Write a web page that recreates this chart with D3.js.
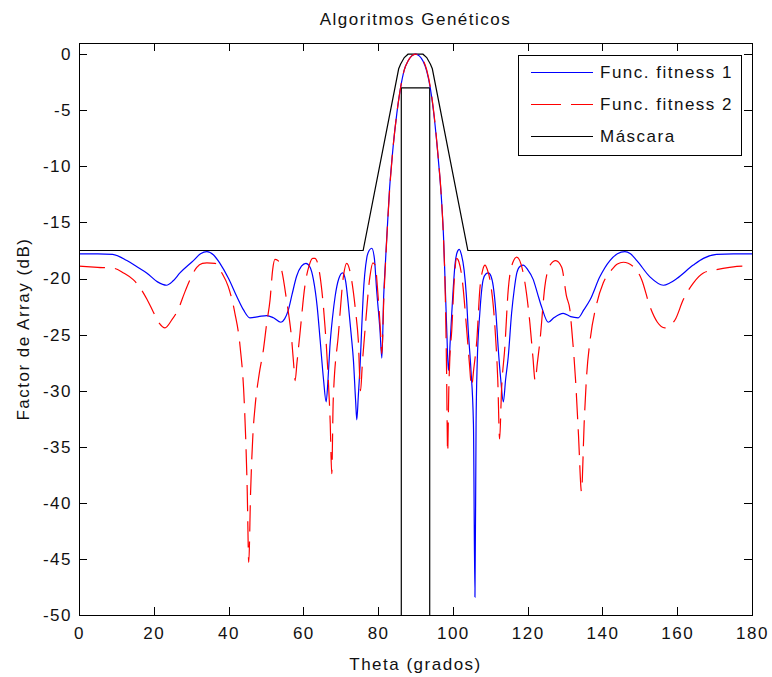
<!DOCTYPE html>
<html>
<head>
<meta charset="utf-8">
<script src="https://cdn.jsdelivr.net/npm/d3@7"></script>
<style>
  body { margin: 0; background: #fff; }
  text { font-family: "Liberation Sans", Arial, sans-serif; font-size: 17px; letter-spacing: 1.5px; fill: #111; }
  .axis path, .axis line { stroke: #000; stroke-width: 1; shape-rendering: crispEdges; }
</style>
</head>
<body>
<svg id="chart" width="772" height="677"></svg>
<script>
// Func. fitness 1 (blue)
var blueTheta = [0,5,9,12.8,15.5,18.1,21,23.4,25.2,27,30.6,32.5,34.2,36,37.7,40,42.2,44,45.7,48,50.2,52,54,55,56,57,58.2,59.5,60.7,61.8,62.7,63.7,64.5,65.4,66.1,66.6,67.1,67.8,68.5,69.5,70.5,71.3,72,72.8,73.4,74,74.3,74.7,75.2,75.6,76,77,77.6,78.3,79,79.6,80.5,81,81.5,82,83,84,85,86,87,88,89,90,91,92,93,94,95,96,97,97.5,97.9,98.4,98.8,99.3,99.7,100.6,101.1,101.7,102.3,103,103.6,104.1,104.8,105.5,105.9,106.2,106.5,107.2,108.1,108.8,109.5,110.2,110.8,111.5,112.1,112.8,113.5,114.1,114.8,115.7,116.4,117.1,118,118.8,120,121.5,122.6,123.7,125.5,127,129.5,131.5,133.5,135,136.7,139.3,142,144,146,147.5,149.2,152.7,156.3,158,159.9,164.3,167,170.5,175,180];
var blueDb = [-17.8,-17.8,-17.85,-18.4,-18.95,-19.5,-20.3,-20.6,-20.2,-19.5,-18.4,-17.8,-17.6,-17.9,-18.65,-20,-21.6,-22.8,-23.5,-23.4,-23.3,-23.5,-23.9,-23.6,-22.8,-21.4,-19.8,-18.9,-18.65,-19,-20.1,-22.5,-25.5,-29,-31,-29,-26.1,-23.5,-21.6,-20,-19.5,-20.2,-22.2,-25,-27.3,-31,-32.6,-30.5,-27.6,-24.5,-21.6,-18.1,-17.5,-17.3,-18.2,-21,-24.6,-27.1,-21.5,-18.3,-12.3,-8.3,-5.3,-3,-1.4,-0.6,-0.15,0,-0.15,-0.6,-1.5,-3.1,-5.6,-9,-13.2,-16.3,-20.1,-25,-28.2,-25.5,-23.1,-18.65,-17.7,-17.4,-17.9,-19.25,-21.5,-24.6,-28,-33,-48.4,-33,-27.6,-23.1,-20.1,-19.6,-19.5,-19.8,-20.7,-23,-26.1,-29,-31,-29,-27,-23.1,-21,-19.5,-18.9,-18.8,-19.2,-20.1,-21.3,-22.5,-23.9,-23.5,-23.1,-23.4,-23.5,-22.8,-21.9,-19.85,-18.4,-17.8,-17.6,-17.8,-18.4,-19.85,-20.6,-20.4,-20,-18.8,-18.2,-17.85,-17.8,-17.8];

// Func. fitness 2 (red, dashed)
var redTheta = [0,5,9.5,11.9,14.5,16.5,18.1,19.9,21.5,23,24.8,26.6,28.2,29.7,31.5,33,34.2,36.4,38.2,39.9,41,41.7,43.1,44.2,45,45.4,45.9,46.5,47.1,48.2,49.3,50.2,51.1,51.8,52.4,53.2,54.2,55.5,56.9,57.5,57.8,58.3,59.1,60.4,61.5,62.5,63.1,64.5,65.8,66.6,67.2,67.6,68,69.4,70.7,71.6,72.9,74,74.7,75.3,75.8,76.5,77.8,78.6,79.2,80,80.6,81,81.5,82,83,84,85,86,87,88,89,90,91,92,93,94,95,96,97,97.5,98,98.3,98.6,98.9,99.2,99.7,100.3,101,101.6,102.4,103.7,104.4,105,105.6,106.4,107.2,108,108.6,109.2,109.9,111.3,112,112.5,113,113.9,114.8,116,117.1,118.8,120.6,121.4,122,122.6,123.3,124.6,126,127.5,129.1,130.4,131.3,131.8,132.8,133.6,134.4,135.1,135.8,136.7,138.5,140.2,142.4,144,145.6,148.3,150.5,152.7,154.7,156.7,159.4,161.6,164.3,167,170.5,174,177.7,180];
var redDb = [-18.9,-19,-19.1,-19.5,-20.1,-20.9,-21.8,-23,-24,-24.4,-23.7,-22.7,-21.3,-20.1,-19,-18.65,-18.6,-18.65,-19.5,-20.7,-22,-23.1,-26.1,-31,-39,-45.3,-39,-34,-31.4,-28.5,-26.4,-24,-21.9,-19.2,-18.3,-18.4,-19.25,-21.9,-25.5,-28,-29.1,-27.5,-24.9,-20.7,-18.9,-18.2,-18.2,-19.85,-24.3,-28.5,-33,-37.4,-30.8,-24.9,-19.85,-18.65,-20.1,-23,-25.5,-30,-27.5,-24.6,-19.85,-18.6,-18.8,-21.6,-24.5,-26.7,-22,-18.5,-12.5,-8.3,-5.3,-3,-1.4,-0.6,-0.15,0,-0.1,-0.5,-1.4,-3,-5.5,-8.9,-13.2,-16.5,-22,-28,-35.5,-30,-27,-24.6,-20.5,-18.2,-18.5,-19.85,-24.6,-27.5,-29.6,-28,-25.5,-21,-19.2,-18.8,-19.2,-20.1,-24.6,-29,-34.3,-30,-26.1,-21,-18.6,-18.1,-19.5,-24,-27,-29.1,-27.5,-25.5,-20.7,-18.8,-18.4,-19,-21.6,-22.8,-24.6,-29,-34,-39,-33,-28.5,-25.5,-22.2,-20.4,-19.25,-18.7,-18.55,-18.95,-20.1,-22.5,-23.9,-24.4,-23.7,-21.9,-20.4,-19.5,-19.2,-19,-18.9,-18.9];

// Máscara (outer envelope and inner -3 dB window)
var maskTheta = [0,76,85.5,86,87,88,92,93,94,94.5,104,180];
var maskDb = [-17.5,-17.5,-1.3,-0.9,-0.3,0,0,-0.3,-0.9,-1.3,-17.5,-17.5];
var maskInnerTheta = [86.2,86.2,93.8,93.8];
var maskInnerDb = [-50,-3,-3,-50];

var xTicks = [0,20,40,60,80,100,120,140,160,180];
var yTicks = [0,-5,-10,-15,-20,-25,-30,-35,-40,-45,-50];
var legendLabels = ["Func. fitness 1", "Func. fitness 2", "Máscara"];

var svg = d3.select("#chart"),
    margin = {top: 43, right: 20, bottom: 62, left: 79},
    width = +svg.attr("width") - margin.left - margin.right,
    height = +svg.attr("height") - margin.top - margin.bottom,
    g = svg.append("g").attr("transform", "translate(" + margin.left + "," + margin.top + ")");

var x = d3.scaleLinear().domain([0, 180]).range([0, width]),
    y = d3.scaleLinear().domain([-50, 1]).range([height, 0]);

// plain hyphen for negatives, like the original figure
var plain = function(d) { return String(d); };

function zip(xs, ys) {
  return xs.map(function(v, i) { return {t: v, db: ys[i]}; });
}

svg.append("defs").append("clipPath").attr("id", "plotclip")
  .append("rect").attr("width", width).attr("height", height);

// axes, ticks pointing inward on all four sides
g.append("g").attr("class", "axis")
    .attr("transform", "translate(0," + height + ")")
    .call(d3.axisBottom(x).tickValues(xTicks).tickFormat(plain).tickSizeInner(-8).tickSizeOuter(0).tickPadding(12))
  .selectAll("text").attr("dy", "0.71em");
g.append("g").attr("class", "axis")
    .call(d3.axisTop(x).tickValues(xTicks).tickSizeInner(-8).tickSizeOuter(0).tickFormat(""));
g.append("g").attr("class", "axis")
    .call(d3.axisLeft(y).tickValues(yTicks).tickFormat(plain).tickSizeInner(-8).tickSizeOuter(0).tickPadding(7));
g.append("g").attr("class", "axis")
    .attr("transform", "translate(" + width + ",0)")
    .call(d3.axisRight(y).tickValues(yTicks).tickSizeInner(-8).tickSizeOuter(0).tickFormat(""));

g.selectAll(".axis text").style("font-size", "17px").style("font-family", "'Liberation Sans', Arial, sans-serif").attr("fill", "#111");

var smooth = d3.line()
    .curve(d3.curveMonotoneX)
    .x(function(d) { return x(d.t); })
    .y(function(d) { return y(d.db); });
var straight = d3.line()
    .x(function(d) { return x(d.t); })
    .y(function(d) { return y(d.db); });

var plot = g.append("g").attr("clip-path", "url(#plotclip)");

plot.append("path")
    .datum(zip(maskTheta, maskDb))
    .attr("d", straight)
    .attr("fill", "none").attr("stroke", "#000").attr("stroke-width", 1.2);
plot.append("path")
    .datum(zip(maskInnerTheta, maskInnerDb))
    .attr("d", straight)
    .attr("fill", "none").attr("stroke", "#000").attr("stroke-width", 1.2);

plot.append("path")
    .datum(zip(blueTheta, blueDb))
    .attr("d", smooth)
    .attr("fill", "none").attr("stroke", "#0000ff").attr("stroke-width", 1.2);
plot.append("path")
    .datum(zip(redTheta, redDb))
    .attr("d", smooth)
    .attr("fill", "none").attr("stroke", "#ff0000").attr("stroke-width", 1.2)
    .attr("stroke-dasharray", "26,10");

// box outline
g.append("rect").attr("width", width).attr("height", height)
    .attr("fill", "none").attr("stroke", "#000").attr("stroke-width", 1)
    .style("shape-rendering", "crispEdges");

// legend
var legend = g.append("g").attr("transform", "translate(" + Math.round(x(117.4)) + "," + Math.round(y(-0.1)) + ")");
legend.append("rect").attr("width", 223).attr("height", 100)
    .attr("fill", "#fff").attr("stroke", "#000").style("shape-rendering", "crispEdges");
var legendStyles = [
  {color: "#0000ff", dash: null},
  {color: "#ff0000", dash: "30,10"},
  {color: "#000", dash: null}
];
legendLabels.forEach(function(label, i) {
  var row = legend.append("g").attr("transform", "translate(0," + (17.5 + i * 32) + ")");
  row.append("line").attr("x1", 13).attr("x2", 75)
      .attr("stroke", legendStyles[i].color).attr("stroke-width", 1.2)
      .attr("stroke-dasharray", legendStyles[i].dash);
  row.append("text").attr("x", 82).attr("dy", "0.35em").text(label);
});

// titles
svg.append("text")
    .attr("x", margin.left + width / 2).attr("y", 25)
    .attr("text-anchor", "middle")
    .text("Algoritmos Genéticos");
svg.append("text")
    .attr("x", margin.left + width / 2).attr("y", 670)
    .attr("text-anchor", "middle")
    .text("Theta (grados)");
svg.append("text")
    .attr("transform", "translate(29," + (margin.top + height / 2) + ") rotate(-90)")
    .attr("text-anchor", "middle")
    .text("Factor de Array (dB)");
</script>
</body>
</html>
